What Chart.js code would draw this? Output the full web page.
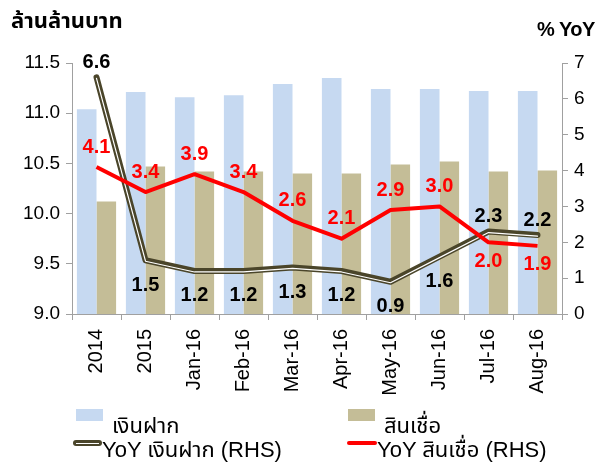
<!DOCTYPE html>
<html>
<head>
<meta charset="utf-8">
<script src="https://cdn.jsdelivr.net/npm/chart.js@4.4.1/dist/chart.umd.min.js"></script>
<style>
    body { margin: 0; background: #fff; }
    #wrap { position: relative; width: 610px; height: 466px; font-family: Arial, "Liberation Sans", sans-serif; }
    #chart { position: absolute; left: 0; top: 0; }
    .ttl { position: absolute; color: #000; white-space: nowrap; }
    #ttlLeft { left: 11px; top: 5px; font-size: 22px; font-weight: bold; font-family: "Noto Sans Thai", Tahoma, Arial, sans-serif; }
    #ttlRight { left: 537px; top: 18px; font-size: 20px; font-weight: bold; letter-spacing: -0.5px; }
    .lg { position: absolute; white-space: nowrap; color: #000; font-size: 22px; font-family: Arial, "Noto Sans Thai", sans-serif; }
    .lg .sym { position: absolute; }
    .lg .txt { position: absolute; }
</style>
</head>
<body>
<div id="wrap">
    <canvas id="chart" width="610" height="466"></canvas>
    <div class="ttl" id="ttlLeft">ล้านล้านบาท</div>
    <div class="ttl" id="ttlRight">% YoY</div>
    <div id="legend"></div>
</div>
<script>
// ข้อมูลอ่านจากภาพ
const categories = ['2014', '2015', 'Jan-16', 'Feb-16', 'Mar-16', 'Apr-16', 'May-16', 'Jun-16', 'Jul-16', 'Aug-16'];
const deposits = [11.04, 11.21, 11.16, 11.18, 11.29, 11.35, 11.24, 11.24, 11.22, 11.22];
const loans = [10.12, 10.47, 10.42, 10.42, 10.40, 10.40, 10.49, 10.52, 10.42, 10.43];
const depositsYoY = [6.6, 1.5, 1.2, 1.2, 1.3, 1.2, 0.9, 1.6, 2.3, 2.2];
const loansYoY = [4.1, 3.4, 3.9, 3.4, 2.6, 2.1, 2.9, 3.0, 2.0, 1.9];
const leftTicks = [9.0, 9.5, 10.0, 10.5, 11.0, 11.5];
const rightTicks = [0, 1, 2, 3, 4, 5, 6, 7];

const AXIS = '#a0a0a0';
const DARK = '#4a452a';
const RED = '#ff0000';

// ตำแหน่งป้ายตัวเลข: a = เหนือจุด, b = ใต้จุด
const depositLabelPos = ['a', 'b', 'b', 'b', 'b', 'b', 'b', 'b', 'a', 'a'];
const loanLabelPos = ['a', 'a', 'a', 'a', 'a', 'a', 'a', 'a', 'b', 'b'];

const valueLabels = {
    id: 'valueLabels',
    afterDatasetsDraw(chart) {
        const ctx = chart.ctx;
        ctx.save();
        ctx.font = 'bold 20px Arial, "Liberation Sans", sans-serif';
        ctx.textAlign = 'center';
        ctx.textBaseline = 'middle';
        chart.data.datasets.forEach((ds, i) => {
            if (!ds.labelPos) return;
            const meta = chart.getDatasetMeta(i);
            meta.data.forEach((pt, j) => {
                const above = ds.labelPos[j] === 'a';
                const dy = above ? -ds.labelGap[0] : ds.labelGap[1];
                ctx.fillStyle = ds.labelColor;
                ctx.fillText(ds.data[j].toFixed(1), pt.x, pt.y + dy);
            });
        });
        ctx.restore();
    }
};

// เส้นขาวด้านในเลื่อนลงเล็กน้อย แบบเส้นคู่ของ Excel
const innerShift = {
    id: 'innerShift',
    beforeDatasetDraw(chart, args) {
        if (chart.data.datasets[args.index].inner) {
            chart.ctx.save();
            chart.ctx.translate(0, 1);
        }
    },
    afterDatasetDraw(chart, args) {
        if (chart.data.datasets[args.index].inner) chart.ctx.restore();
    }
};

const chart = new Chart(document.getElementById('chart'), {
    type: 'bar',
    data: {
        labels: categories,
        datasets: [
            {
                label: 'เงินฝาก',
                data: deposits,
                backgroundColor: '#c6d9f1',
                yAxisID: 'y',
                order: 3,
                categoryPercentage: 0.8,
                barPercentage: 1.0
            },
            {
                label: 'สินเชื่อ',
                data: loans,
                backgroundColor: '#c4bd97',
                yAxisID: 'y',
                order: 3,
                categoryPercentage: 0.8,
                barPercentage: 1.0
            },
            {
                type: 'line',
                label: 'YoY เงินฝาก (RHS)',
                data: depositsYoY,
                borderColor: DARK,
                borderWidth: 6,
                borderCapStyle: 'round',
                borderJoinStyle: 'round',
                pointRadius: 0,
                tension: 0,
                yAxisID: 'y1',
                order: 2,
                labelPos: depositLabelPos,
                labelGap: [15, 25],
                labelColor: '#000'
            },
            {
                type: 'line',
                label: '',
                inner: true,
                data: depositsYoY,
                borderColor: '#ffffff',
                borderWidth: 1.2,
                borderCapStyle: 'round',
                borderJoinStyle: 'round',
                pointRadius: 0,
                tension: 0,
                yAxisID: 'y1',
                order: 1
            },
            {
                type: 'line',
                label: 'YoY สินเชื่อ (RHS)',
                data: loansYoY,
                borderColor: RED,
                borderWidth: 4,
                borderJoinStyle: 'round',
                pointRadius: 0,
                tension: 0,
                yAxisID: 'y1',
                order: 0,
                labelPos: loanLabelPos,
                labelGap: [20, 19],
                labelColor: RED
            }
        ]
    },
    options: {
        responsive: false,
        animation: false,
        layout: { padding: { top: 63, left: 0, right: 0, bottom: 0 } },
        plugins: {
            legend: { display: false },
            tooltip: { enabled: false }
        },
        scales: {
            x: {
                grid: { display: true, drawOnChartArea: false, offset: true, tickLength: 6, color: AXIS },
                border: { color: AXIS, width: 1 },
                ticks: {
                    color: '#000',
                    font: { size: 20, family: 'Arial, "Liberation Sans", sans-serif' },
                    minRotation: 90,
                    maxRotation: 90,
                    padding: 9
                },
                afterFit: (scale) => { scale.height = 152; }
            },
            y: {
                position: 'left',
                min: 9,
                max: 11.5,
                grid: { drawOnChartArea: false, tickLength: 6, color: AXIS },
                border: { color: AXIS, width: 1 },
                ticks: {
                    color: '#000',
                    font: { size: 19, family: 'Arial, "Liberation Sans", sans-serif' },
                    padding: 6,
                    callback: (v) => Number(v).toFixed(1)
                },
                afterBuildTicks: (scale) => { scale.ticks = leftTicks.map(v => ({ value: v })); },
                afterFit: (scale) => { scale.width = 72; }
            },
            y1: {
                position: 'right',
                min: 0,
                max: 7,
                grid: { drawOnChartArea: false, tickLength: 6, color: AXIS },
                border: { color: AXIS, width: 1 },
                ticks: {
                    color: '#000',
                    font: { size: 19, family: 'Arial, "Liberation Sans", sans-serif' },
                    padding: 6
                },
                afterBuildTicks: (scale) => { scale.ticks = rightTicks.map(v => ({ value: v })); },
                afterFit: (scale) => { scale.width = 48; }
            }
        }
    },
    plugins: [innerShift, valueLabels]
});

// คำอธิบายสัญลักษณ์ 2 คอลัมน์ใต้กราฟ
function buildLegend() {
    const box = document.getElementById('legend');
    const slots = [
        { ds: 0, x: 76, y: 406, kind: 'box' },
        { ds: 1, x: 348, y: 406, kind: 'box' },
        { ds: 2, x: 73, y: 434, kind: 'double' },
        { ds: 4, x: 347, y: 434, kind: 'line' }
    ];
    box.innerHTML = slots.map(s => {
        const ds = chart.data.datasets[s.ds];
        let sym = '';
        let txtLeft = 0;
        let txtTop = 0;
        if (s.kind === 'box') {
            sym = `<div class="sym" style="left:0;top:3px;width:27px;height:12px;background:${ds.backgroundColor}"></div>`;
            txtLeft = 36; txtTop = 4;
        } else if (s.kind === 'double') {
            sym = `<div class="sym" style="left:0;top:6px;width:29px;height:6px;border-radius:3px;background:${ds.borderColor}"></div>` +
                  `<div class="sym" style="left:3px;top:9px;width:23px;height:1px;background:#fff"></div>`;
            txtLeft = 29; txtTop = 0;
        } else {
            sym = `<div class="sym" style="left:0;top:7px;width:30px;height:4px;border-radius:2px;background:${ds.borderColor}"></div>`;
            txtLeft = 30; txtTop = 0;
        }
        return `<div class="lg" style="left:${s.x}px;top:${s.y}px">${sym}<div class="txt" style="left:${txtLeft}px;top:${txtTop}px">${ds.label}</div></div>`;
    }).join('');
}
buildLegend();
</script>
</body>
</html>
